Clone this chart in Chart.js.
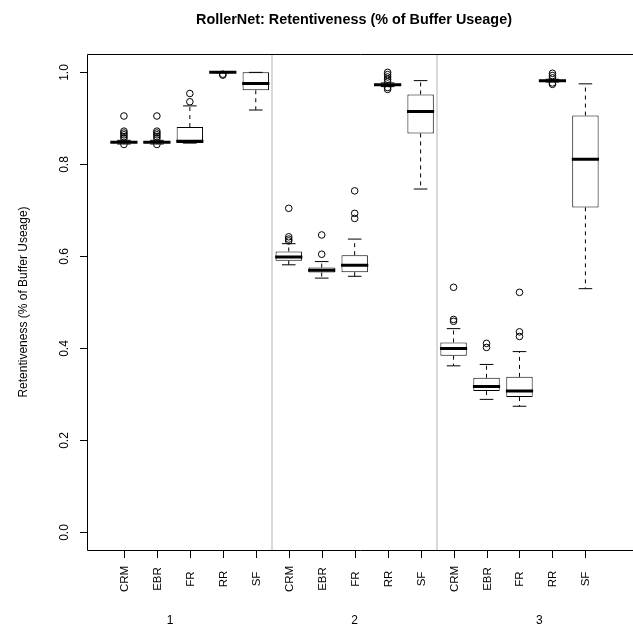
<!DOCTYPE html>
<html><head><meta charset="utf-8">
<script src="https://cdn.jsdelivr.net/npm/chart.js@4.4.1/dist/chart.umd.min.js"></script>
<style>html,body{margin:0;padding:0;background:#fff}canvas{display:block}</style>
</head><body>
<canvas id="c" width="633" height="629"></canvas>
<script>
// ---- data ----
const methods = ['CRM', 'EBR', 'FR', 'RR', 'SF'];
const groups = ['1', '2', '3'];
const groupPos = [2.4, 8, 13.6];
const separators = [5.5, 10.5];
const yTicks = [0, 0.2, 0.4, 0.6, 0.8, 1.0];
const chartTitle = 'RollerNet: Retentiveness (% of Buffer Useage)';
const yTitle = 'Retentiveness (% of Buffer Useage)';

const lowWhisker  = [0.844, 0.844, 0.846, 0.999, 0.918, 0.581, 0.552, 0.556, 0.969, 0.746, 0.361, 0.288, 0.273, 0.979, 0.529];
const q1          = [0.846, 0.846, 0.846, 0.999, 0.961, 0.590, 0.564, 0.565, 0.971, 0.867, 0.383, 0.306, 0.293, 0.980, 0.706];
const median      = [0.848, 0.848, 0.850, 1.000, 0.976, 0.598, 0.569, 0.580, 0.973, 0.915, 0.399, 0.316, 0.306, 0.982, 0.811];
const q3          = [0.850, 0.850, 0.881, 1.000, 1.000, 0.610, 0.575, 0.602, 0.975, 0.952, 0.412, 0.335, 0.337, 0.984, 0.906];
const highWhisker = [0.852, 0.852, 0.927, 1.000, 1.000, 0.627, 0.588, 0.637, 0.977, 0.982, 0.442, 0.364, 0.392, 0.985, 0.975];
const outliers = [
  [0.905, 0.872, 0.868, 0.864, 0.860, 0.856, 0.843],
  [0.905, 0.872, 0.868, 0.864, 0.860, 0.856, 0.843],
  [0.954, 0.936],
  [0.996, 0.994],
  [],
  [0.704, 0.642, 0.637, 0.633],
  [0.646, 0.604],
  [0.742, 0.693, 0.682],
  [1.000, 0.995, 0.990, 0.985, 0.980, 0.967, 0.963],
  [],
  [0.532, 0.462, 0.458],
  [0.410, 0.401],
  [0.521, 0.435, 0.425],
  [0.998, 0.993, 0.988, 0.977, 0.974],
  []
];

// ---- derived structures for the library ----
const labels = [];
groups.forEach(() => methods.forEach(m => labels.push(m)));
const pos = labels.map((_, i) => i + 1);

const boxData = pos.map((x, i) => ({ x, y: [q1[i], q3[i]] }));
const medianData = pos.map((x, i) => ({ x, y: median[i] }));
const capData = [];
pos.forEach((x, i) => { capData.push({ x, y: lowWhisker[i] }); capData.push({ x, y: highWhisker[i] }); });
const whiskerData = [];
pos.forEach((x, i) => {
  whiskerData.push({ x, y: q3[i] }, { x, y: highWhisker[i] }, { x, y: null });
  whiskerData.push({ x, y: q1[i] }, { x, y: lowWhisker[i] }, { x, y: null });
});
const outlierData = [];
pos.forEach((x, i) => outliers[i].forEach(v => outlierData.push({ x, y: v })));

const FONT = '"Liberation Sans", Arial, Helvetica, sans-serif';

const decor = {
  id: 'decor',
  beforeDatasetsDraw(chart) {
    const { ctx, chartArea: a, scales: { x } } = chart;
    ctx.save();
    ctx.strokeStyle = '#d9d9d9';
    ctx.lineWidth = 2;
    separators.forEach(s => {
      const px = Math.round(x.getPixelForValue(s));
      ctx.beginPath(); ctx.moveTo(px, a.top); ctx.lineTo(px, a.bottom); ctx.stroke();
    });
    ctx.restore();
  },
  afterDraw(chart) {
    const { ctx, chartArea: a, scales: { x, y } } = chart;
    ctx.save();
    // frame
    ctx.strokeStyle = '#000';
    ctx.lineWidth = 1;
    ctx.beginPath();
    ctx.moveTo(633, a.top + 0.5); ctx.lineTo(a.left + 0.5, a.top + 0.5);
    ctx.lineTo(a.left + 0.5, a.bottom + 0.5); ctx.lineTo(633, a.bottom + 0.5);
    ctx.stroke();
    // y ticks
    ctx.fillStyle = '#000';
    ctx.font = '12px ' + FONT;
    ctx.textAlign = 'center';
    ctx.textBaseline = 'middle';
    yTicks.forEach(v => {
      const py = Math.round(y.getPixelForValue(v)) + 0.5;
      ctx.beginPath(); ctx.moveTo(a.left - 7, py); ctx.lineTo(a.left + 0.5, py); ctx.stroke();
      ctx.save(); ctx.translate(65, py); ctx.rotate(-Math.PI / 2);
      ctx.fillText(v.toFixed(1), 0, 0); ctx.restore();
    });
    // y title
    ctx.save(); ctx.translate(24, (a.top + a.bottom) / 2); ctx.rotate(-Math.PI / 2);
    ctx.fillText(yTitle, 0, 0); ctx.restore();
    // x ticks & labels
    ctx.font = '11.5px ' + FONT;
    pos.forEach((p, i) => {
      const px = Math.round(x.getPixelForValue(p)) + 0.5;
      ctx.beginPath(); ctx.moveTo(px, a.bottom); ctx.lineTo(px, a.bottom + 8); ctx.stroke();
      ctx.save(); ctx.translate(px, 579); ctx.rotate(-Math.PI / 2);
      ctx.fillText(labels[i], 0, 0); ctx.restore();
    });
    // group labels
    ctx.font = '12px ' + FONT;
    groups.forEach((g, i) => ctx.fillText(g, x.getPixelForValue(groupPos[i]), 621));
    // title
    ctx.font = 'bold 14.4px ' + FONT;
    ctx.fillText(chartTitle, 354, 20);
    ctx.restore();
  }
};

new Chart(document.getElementById('c'), {
  type: 'bar',
  data: {
    datasets: [
      { type: 'scatter', data: outlierData, order: 0,
        pointStyle: 'circle', pointRadius: 3.3, pointBorderWidth: 1,
        pointBorderColor: '#000', pointBackgroundColor: 'rgba(0,0,0,0)' },
      { type: 'scatter', data: medianData, order: 1,
        pointStyle: 'line', pointRadius: 13.6, pointBorderWidth: 3, pointBorderColor: '#000' },
      { type: 'scatter', data: capData, order: 2,
        pointStyle: 'line', pointRadius: 6.8, pointBorderWidth: 1, pointBorderColor: '#000' },
      { type: 'bar', data: boxData, order: 3,
        backgroundColor: '#fff', borderColor: '#000', borderWidth: 1, borderSkipped: false,
        barPercentage: 0.8, categoryPercentage: 1.0 },
      { type: 'line', data: whiskerData, order: 4,
        borderColor: '#000', borderWidth: 1, borderDash: [4, 4], pointRadius: 0,
        spanGaps: false, tension: 0, fill: false }
    ]
  },
  options: {
    responsive: false,
    animation: false,
    events: [],
    devicePixelRatio: 1,
    layout: { padding: { left: 87, right: 0, top: 54, bottom: 79 } },
    plugins: { legend: { display: false }, title: { display: false }, tooltip: { enabled: false } },
    scales: {
      x: { type: 'linear', display: false, min: -0.12, max: 15.94, offset: false },
      y: { type: 'linear', display: false, min: -0.04, max: 1.04 }
    }
  },
  plugins: [decor]
});
</script>
</body></html>
